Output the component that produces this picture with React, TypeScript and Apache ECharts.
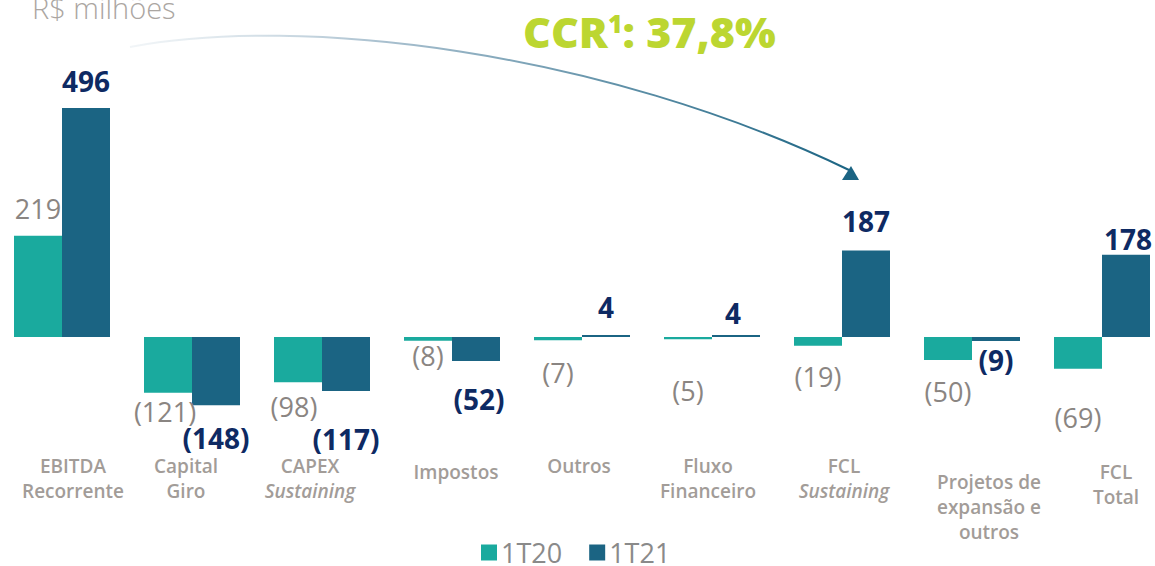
import React, { useEffect, useRef } from "react";
import * as echarts from "echarts";

const categories = [
  "EBITDA\nRecorrente",
  "Capital\nGiro",
  "CAPEX\nSustaining",
  "Impostos",
  "Outros",
  "Fluxo\nFinanceiro",
  "FCL\nSustaining",
  "Projetos de\nexpansão e\noutros",
  "FCL\nTotal",
];
const values1T20 = [219, -121, -98, -8, -7, -5, -19, -50, -69];
const values1T21 = [496, -148, -117, -52, 4, 4, 187, -9, 178];
const seriesNames = ["1T20", "1T21"];
const unitLabel = "R$ milhões";
const ccrLabel = "37,8%";

// label nudges (styling only)
const offsets1T20 = [[0, -9], [-3, 0], [-4, 6], [0, -4], [0, 14], [0, 33], [0, 12], [0, 13], [0, 30]];
const offsets1T21 = [[0, -8], [0, 14], [0, 29], [3, 19], [0, -9], [-3, -3], [0, -11], [0, 0], [2, 3]];
const categoryPadTop = [0, 0, 0, 6, 0, 0, 0, 16, 6];
const categoryShiftX = [11, -6, -12, 4, -3, -4, 2, 17, 14];

const TEAL = "#1aaa9e";
const BLUE = "#1b6483";
const NAVY = "#0e2a63";
const GRAY = "#8a8582";
const CAT_GRAY = "#a29c98";
const FONT = "'Open Sans', 'Noto Sans', sans-serif";

function fmt(v: number) {
  return v < 0 ? `(${Math.abs(v)})` : `${v}`;
}

export default function App() {
  const ref = useRef<HTMLDivElement>(null);
  useEffect(() => {
    if (!ref.current) return;
    const chart = echarts.init(ref.current, null, { renderer: "svg" });
    const mk = (vals: number[], offs: number[][], style: any) =>
      vals.map((v, i) => ({
        value: v,
        label: {
          position: v >= 0 ? "top" : "bottom",
          offset: offs[i],
          ...style,
        },
      }));
    chart.setOption({
      animation: false,
      title: [
        {
          text: unitLabel,
          left: 27,
          top: -12,
          textStyle: { fontFamily: FONT, fontSize: 29, fontWeight: 300, color: "#aba6a2" },
        },
        {
          text: `{a|CCR}{s|1}{a|: ${ccrLabel}}`,
          left: 518,
          top: 5,
          textStyle: {
            rich: {
              a: { fontFamily: FONT, fontSize: 43, fontWeight: 800, color: "#bcd631" },
              s: {
                fontFamily: FONT,
                fontSize: 25,
                fontWeight: 800,
                color: "#bcd631",
                verticalAlign: "top",
                padding: [0, 0, 14, 0],
              },
            },
          },
        },
      ],
      legend: {
        data: seriesNames,
        left: 481,
        top: 539,
        padding: 0,
        itemWidth: 16,
        itemHeight: 16,
        itemGap: 27,
        icon: "rect",
        textStyle: {
          fontFamily: FONT,
          fontSize: 27,
          lineHeight: 26,
          color: "#8a8a8a",
          padding: [0, 0, 0, -1],
        },
      },
      grid: {
        left: -3,
        width: 1170,
        top: 106.1,
        height: 323.2,
        containLabel: false,
        outerBoundsMode: "none",
      },
      xAxis: {
        type: "category",
        data: categories.map((c, i) => {
          const d = categoryShiftX[i];
          return {
            value: c,
            textStyle: {
              padding: [categoryPadTop[i], d < 0 ? -2 * d : 0, 0, d > 0 ? 2 * d : 0],
            },
          };
        }),
        axisLine: { show: false, onZero: false },
        axisTick: { show: false },
        axisLabel: {
          interval: 0,
          margin: 24,
          verticalAlign: "top",
          fontFamily: FONT,
          fontSize: 19,
          fontWeight: 600,
          color: CAT_GRAY,
          lineHeight: 25,
          formatter: (v: string) =>
            v
              .split("\n")
              .map((l) => (l === "Sustaining" ? `{i|${l}}` : `{n|${l}}`))
              .join("\n"),
          rich: {
            n: { fontFamily: FONT, fontSize: 19, fontWeight: 600, color: CAT_GRAY, lineHeight: 25 },
            i: {
              fontFamily: FONT,
              fontSize: 19,
              fontWeight: 600,
              fontStyle: "italic",
              color: CAT_GRAY,
              lineHeight: 25,
            },
          },
        },
      },
      yAxis: {
        type: "value",
        min: -200,
        max: 500,
        show: false,
        splitLine: { show: false },
      },
      series: [
        {
          name: seriesNames[0],
          type: "bar",
          barWidth: 48,
          barGap: "0%",
          itemStyle: { color: TEAL },
          label: { show: true, formatter: (p: any) => fmt(p.value), distance: 5 },
          data: mk(values1T20, offsets1T20, {
            fontFamily: FONT,
            fontSize: 27,
            fontWeight: "normal",
            color: GRAY,
          }),
        },
        {
          name: seriesNames[1],
          type: "bar",
          barWidth: 48,
          barGap: "0%",
          itemStyle: { color: BLUE },
          label: { show: true, formatter: (p: any) => fmt(p.value), distance: 5 },
          data: mk(values1T21, offsets1T21, {
            fontFamily: FONT,
            fontSize: 28,
            fontWeight: "bold",
            color: NAVY,
          }),
        },
      ],
      graphic: [
        {
          type: "bezierCurve",
          shape: { x1: 130, y1: 47, cpx1: 300, cpy1: 15, cpx2: 600, cpy2: 50, x2: 849, y2: 170 },
          style: {
            fill: "none",
            lineWidth: 2,
            stroke: new echarts.graphic.LinearGradient(0, 0, 1, 0, [
              { offset: 0, color: "rgba(210,222,230,0.3)" },
              { offset: 0.35, color: "#a9c0cf" },
              { offset: 1, color: BLUE },
            ]),
          },
          silent: true,
        },
        {
          type: "polygon",
          shape: { points: [[851, 166], [842, 180], [859, 180]] },
          style: { fill: BLUE },
          silent: true,
        },
      ],
    });
    return () => chart.dispose();
  }, []);
  return (
    <div
      ref={ref}
      style={{ position: "fixed", left: 0, top: 0, width: 1155, height: 566, background: "#fff" }}
    />
  );
}
